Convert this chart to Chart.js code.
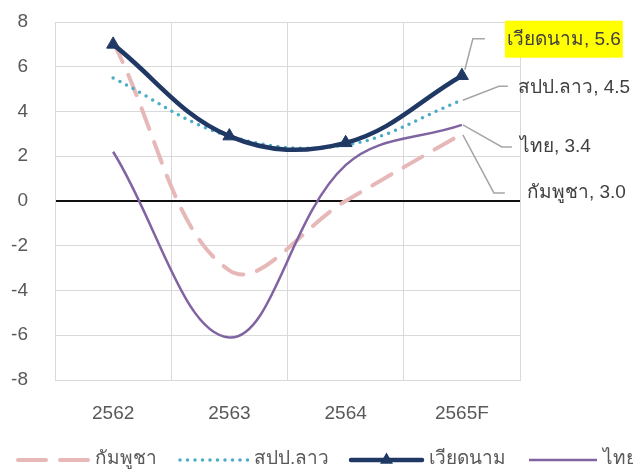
<!DOCTYPE html>
<html><head><meta charset="utf-8">
<script src="https://cdn.jsdelivr.net/npm/chart.js@4"></script>
<style>html,body{margin:0;padding:0;background:#fff;overflow:hidden}</style>
</head><body>
<canvas id="c" width="633" height="470"></canvas>
<script>
const categories = ['2562', '2563', '2564', '2565F'];
const cambodia = [7.1, -3.1, 0.0, 3.0];
const lao = [5.5, 2.9, 2.5, 4.5];
const vietnam = [7.0, 2.9, 2.6, 5.6];
const thailand = [2.2, -6.1, 1.6, 3.4];
const seriesNames = ['กัมพูชา', 'สปป.ลาว', 'เวียดนาม', 'ไทย'];
const yMin = -8, yMax = 8, yStep = 2;

const FONT = '"Liberation Sans", Arial, sans-serif';
const TEXT = '#595959';
const colors = ['#e6b9b8', '#4bacc6', '#1f3864', '#8064a2'];

const endLabels = {
  id: 'endLabels',
  afterDatasetsDraw(chart) {
    const ctx = chart.ctx;
    const specs = [
      { ds: 0, start: [1, 1], bend: [32, 59], end: [43, 59], text: [65, 59] },
      { ds: 1, start: [1, 0], bend: [37, -14], end: [46, -14], text: [56, -13] },
      { ds: 2, start: [3, -6], bend: [11, -37], end: [23, -37], text: [45, -36], box: true },
      { ds: 3, start: [1, 0], bend: [40, 22], end: [50, 22], text: [58, 22] }
    ];
    ctx.save();
    specs.forEach(s => {
      const meta = chart.getDatasetMeta(s.ds);
      const pt = meta.data[meta.data.length - 1];
      const vals = chart.data.datasets[s.ds].data;
      const v = vals[vals.length - 1];
      const px = pt.x, py = pt.y;
      ctx.strokeStyle = '#a6a6a6';
      ctx.lineWidth = 1.5;
      ctx.setLineDash([]);
      ctx.beginPath();
      ctx.moveTo(px + s.start[0], py + s.start[1]);
      ctx.lineTo(px + s.bend[0], py + s.bend[1]);
      ctx.lineTo(px + s.end[0], py + s.end[1]);
      ctx.stroke();
      const label = seriesNames[s.ds] + ', ' + v.toFixed(1);
      ctx.font = '19px ' + FONT;
      ctx.textBaseline = 'middle';
      ctx.textAlign = 'left';
      const tx = px + s.text[0], ty = py + s.text[1];
      if (s.box) {
        const w = ctx.measureText(label).width;
        ctx.fillStyle = '#ffff00';
        ctx.fillRect(tx - 2, ty - 19, w + 4, 37);
      }
      ctx.fillStyle = '#404040';
      ctx.fillText(label, tx, ty);
    });
    ctx.restore();
  }
};

const bottomLegend = {
  id: 'bottomLegend',
  afterDraw(chart) {
    const ctx = chart.ctx;
    const y = 460;
    const items = [
      { x0: 18, x1: 88, tx: 95, dash: [28, 14], w: 4, cap: 'round' },
      { x0: 180, x1: 248, tx: 254, dash: [0, 7.5], w: 3.5, cap: 'round' },
      { x0: 351, x1: 422, tx: 429, dash: [], w: 4.5, cap: 'round', tri: true },
      { x0: 529, x1: 597, tx: 603, dash: [], w: 2.5, cap: 'butt' }
    ];
    ctx.save();
    items.forEach((it, i) => {
      ctx.strokeStyle = colors[i];
      ctx.lineWidth = it.w;
      ctx.lineCap = it.cap;
      ctx.setLineDash(it.dash);
      ctx.beginPath();
      ctx.moveTo(it.x0, y);
      ctx.lineTo(it.x1, y);
      ctx.stroke();
      ctx.setLineDash([]);
      if (it.tri) {
        const cx = (it.x0 + it.x1) / 2, r = 7.5;
        ctx.fillStyle = colors[i];
        ctx.beginPath();
        ctx.moveTo(cx, y - r);
        ctx.lineTo(cx + r * 0.866, y + r * 0.5);
        ctx.lineTo(cx - r * 0.866, y + r * 0.5);
        ctx.closePath();
        ctx.fill();
      }
      ctx.font = '19px ' + FONT;
      ctx.fillStyle = TEXT;
      ctx.textBaseline = 'middle';
      ctx.textAlign = 'left';
      ctx.fillText(seriesNames[i], it.tx, y - 1);
    });
    ctx.restore();
  }
};

new Chart(document.getElementById('c'), {
  type: 'line',
  data: {
    labels: categories,
    datasets: [
      { label: seriesNames[0], data: cambodia, borderColor: colors[0], borderWidth: 4,
        borderDash: [22, 14], borderCapStyle: 'round', pointRadius: 0, order: 4 },
      { label: seriesNames[1], data: lao, borderColor: colors[1], borderWidth: 3.5,
        borderDash: [0, 7.5], borderCapStyle: 'round', pointRadius: 0, order: 3 },
      { label: seriesNames[2], data: vietnam, borderColor: colors[2], borderWidth: 4.5,
        pointStyle: 'triangle', pointRadius: 7.5, pointBorderWidth: 1,
        pointBackgroundColor: colors[2], pointBorderColor: colors[2], order: 2 },
      { label: seriesNames[3], data: thailand, borderColor: colors[3], borderWidth: 2.5,
        pointRadius: 0, order: 1 }
    ]
  },
  options: {
    responsive: false,
    animation: false,
    devicePixelRatio: 1,
    layout: { padding: { top: 22, right: 113, bottom: 0, left: 0 } },
    elements: { line: { tension: 0.38, fill: false } },
    plugins: { legend: { display: false }, tooltip: { enabled: false } },
    scales: {
      x: {
        offset: true,
        grid: { color: '#d9d9d9', lineWidth: 1, offset: true, drawTicks: false },
        border: { color: '#d9d9d9' },
        ticks: { color: TEXT, font: { size: 19, family: FONT }, padding: 22 },
        afterFit(s) { s.height = 90; s.paddingLeft = 0; s.paddingRight = 0; }
      },
      y: {
        min: yMin, max: yMax,
        grid: {
          drawTicks: false,
          color: c => c.tick && c.tick.value === 0 ? '#111' : '#d9d9d9',
          lineWidth: c => c.tick && c.tick.value === 0 ? 2 : 1
        },
        border: { color: '#d9d9d9' },
        ticks: { stepSize: yStep, color: TEXT, font: { size: 19, family: FONT }, padding: 27 },
        afterFit(s) { s.width = 55; s.paddingTop = 0; s.paddingBottom = 0; }
      }
    }
  },
  plugins: [endLabels, bottomLegend]
});
</script>
</body></html>
